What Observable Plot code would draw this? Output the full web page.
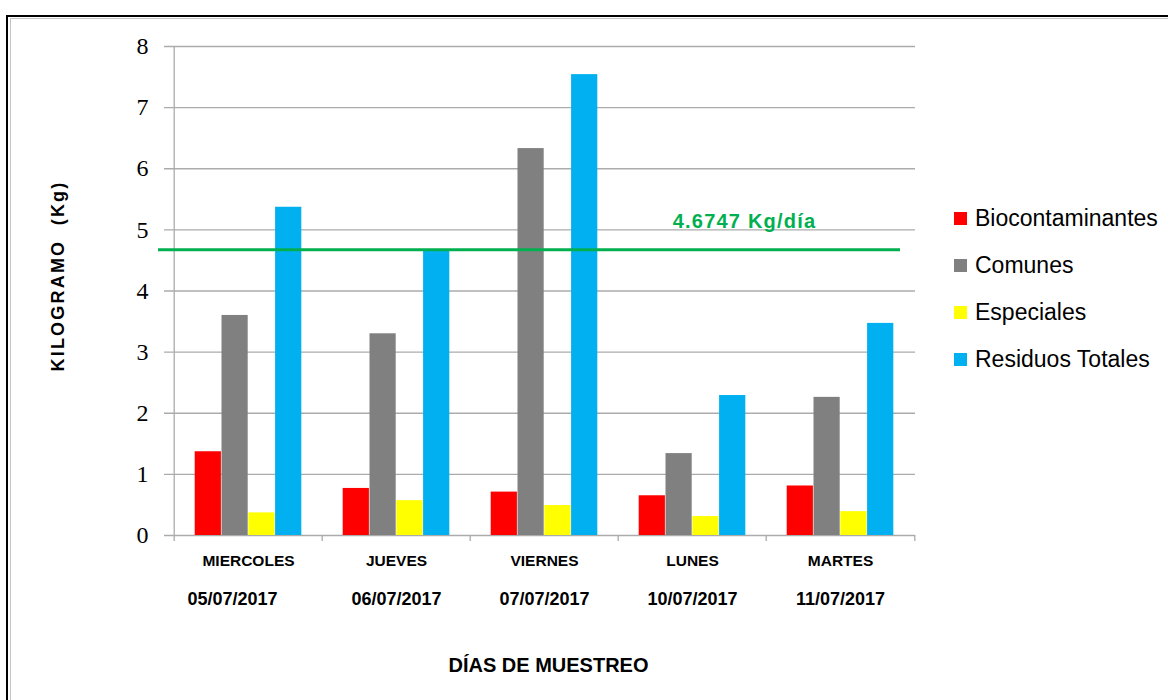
<!DOCTYPE html>
<html>
<head>
<meta charset="utf-8">
<script src="https://cdn.jsdelivr.net/npm/d3@7"></script>
<script src="https://cdn.jsdelivr.net/npm/@observablehq/plot@0.6"></script>
<style>
  html, body { margin: 0; padding: 0; background: #fff; }
  body { width: 1168px; height: 700px; position: relative; overflow: hidden; font-family: "Liberation Sans", Arial, sans-serif; }
  #chart { position: absolute; left: 0; top: 0; }
  .frame-outer { position: absolute; left: 6px; top: 14.5px; width: 1300px; height: 800px; border-left: 2px solid #000; border-top: 2px solid #000; box-sizing: border-box; }
  .frame-inner { position: absolute; left: 9.5px; top: 18px; width: 1300px; height: 800px; border-left: 1.5px solid #c4c4c4; border-top: 1.5px solid #c4c4c4; box-sizing: border-box; }
  #legend { position: absolute; left: 954px; top: 0; }
  .item { position: absolute; left: 0; display: flex; align-items: center; white-space: nowrap; height: 30px; transform: translateY(-50%); }
  .sw { width: 13px; height: 13px; margin-right: 8px; }
  .lab { font-size: 23px; color: #000; font-family: "Liberation Sans", Arial, sans-serif; }
</style>
</head>
<body>
<div class="frame-outer"></div>
<div class="frame-inner"></div>
<div id="chart"></div>
<div id="legend"></div>
<script>
// ---- data ----
const days = ["MIERCOLES", "JUEVES", "VIERNES", "LUNES", "MARTES"];
const dates = ["05/07/2017", "06/07/2017", "07/07/2017", "10/07/2017", "11/07/2017"];
const seriesNames = ["Biocontaminantes", "Comunes", "Especiales", "Residuos Totales"];
const biocontaminantes = [1.37, 0.77, 0.71, 0.65, 0.81];
const comunes = [3.60, 3.30, 6.33, 1.34, 2.26];
const especiales = [0.37, 0.57, 0.49, 0.31, 0.39];
const residuosTotales = [5.37, 4.66, 7.54, 2.29, 3.47];
const meanValue = 4.6747;
const meanLabel = "4.6747 Kg/día";
const yTicks = [0, 1, 2, 3, 4, 5, 6, 7, 8];
const yTitle = "KILOGRAMO  (Kg)";
const xTitle = "DÍAS DE MUESTREO";

const seriesValues = [biocontaminantes, comunes, especiales, residuosTotales];
const colors = ["#FF0000", "#808080", "#FFFF00", "#00B0F0"];

// ---- layout ----
const W = 1168, H = 700;
const mL = 172, mR = 253, mT = 46, mB = 165;
const bandW = (W - mL - mR) / days.length;
const barW = 26.8;
const groupPad = (bandW - barW * seriesNames.length) / 2;
const grid = "#ababab";
const sans = "Liberation Sans, Arial, sans-serif";

const barMarks = seriesValues.map((vals, i) =>
  Plot.barY(days.map((d, j) => ({day: d, value: vals[j]})), {
    x: "day", y: "value", fill: colors[i],
    insetLeft: groupPad + i * barW,
    insetRight: bandW - groupPad - (i + 1) * barW
  })
);

const dateRows = days.map((d, i) => ({day: d, date: dates[i]}));

const chart = Plot.plot({
  width: W, height: H,
  marginLeft: mL, marginRight: mR, marginTop: mT, marginBottom: mB,
  x: {type: "band", domain: days, padding: 0, axis: null},
  y: {domain: [0, 8], axis: null},
  style: {overflow: "visible", background: "transparent"},
  marks: [
    Plot.ruleY(yTicks, {stroke: grid, strokeWidth: 1.3, insetLeft: -8}),
    Plot.ruleX([days[0]], {x: d => d, dx: -bandW / 2, y1: 0, y2: 8, stroke: grid, strokeWidth: 1.3}),
    Plot.ruleX(days, {x: d => d, dx: -bandW / 2, y1: 0, y2: -0.1, stroke: grid, strokeWidth: 1.3}),
    Plot.ruleX([days[days.length - 1]], {x: d => d, dx: bandW / 2, y1: 0, y2: -0.1, stroke: grid, strokeWidth: 1.3}),
    Plot.text(yTicks, {
      y: d => d, frameAnchor: "left", dx: -24, text: d => String(d), textAnchor: "end", lineAnchor: "middle",
      fontSize: 24, fontFamily: "Liberation Serif, serif", fill: "#000"
    }),
    ...barMarks,
    Plot.ruleY([meanValue], {stroke: "#00B050", strokeWidth: 3, insetLeft: -14, insetRight: 15}),
    Plot.text([meanLabel], {
      x: () => days[3], y: () => meanValue, dx: 52, dy: -28, text: d => d, lineAnchor: "middle",
      fill: "#00B050", fontSize: 20, fontWeight: "bold", fontFamily: sans
    }),
    Plot.text(days, {
      x: d => d, frameAnchor: "bottom", dy: 26, text: d => d, lineAnchor: "middle", textAnchor: "middle",
      fontSize: 15.5, fontWeight: "bold", fontFamily: sans, fill: "#000"
    }),
    Plot.text(dateRows.slice(0, 1), {
      x: "day", frameAnchor: "bottom", dy: 64, dx: -16, text: "date", lineAnchor: "middle", textAnchor: "middle",
      fontSize: 18, fontWeight: "bold", fontFamily: sans, fill: "#000"
    }),
    Plot.text(dateRows.slice(1), {
      x: "day", frameAnchor: "bottom", dy: 64, text: "date", lineAnchor: "middle", textAnchor: "middle",
      fontSize: 18, fontWeight: "bold", fontFamily: sans, fill: "#000"
    }),
    Plot.text([yTitle], {
      frameAnchor: "left", dx: -114.5, dy: -15, rotate: -90, text: d => d,
      textAnchor: "middle", lineAnchor: "middle",
      fontSize: 18, fontWeight: "bold", fontFamily: sans, fill: "#000"
    }),
    Plot.text([xTitle], {
      frameAnchor: "bottom", dx: 4.5, dy: 130, text: d => d, lineAnchor: "middle", textAnchor: "middle",
      fontSize: 20, fontWeight: "bold", fontFamily: sans, fill: "#000"
    })
  ]
});
document.getElementById("chart").appendChild(chart);

// ---- legend ----
const legend = document.getElementById("legend");
const rowY = [218, 265, 312, 359];
seriesNames.forEach((name, i) => {
  const item = document.createElement("div");
  item.className = "item";
  item.style.top = rowY[i] + "px";
  const sw = document.createElement("div");
  sw.className = "sw";
  sw.style.background = colors[i];
  const lab = document.createElement("span");
  lab.className = "lab";
  lab.textContent = name;
  item.appendChild(sw);
  item.appendChild(lab);
  legend.appendChild(item);
});
// letter-spacing tweaks
chart.querySelectorAll("text").forEach(t => {
  if (t.textContent === yTitle) t.setAttribute("letter-spacing", "2.2");
  if (t.textContent === meanLabel) t.setAttribute("letter-spacing", "1.2");
});
</script>
</body>
</html>
